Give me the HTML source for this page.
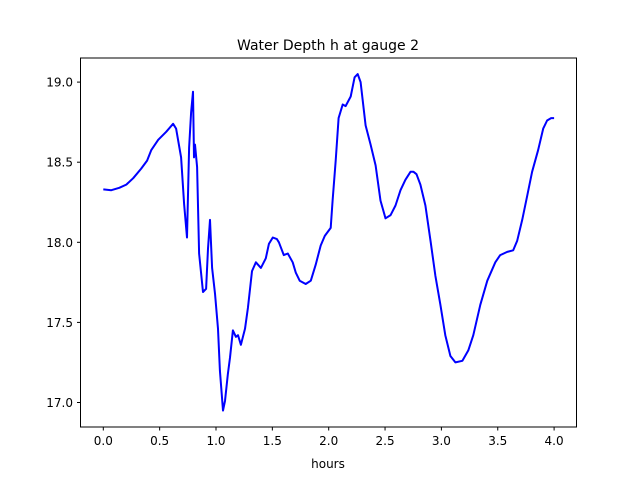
<!DOCTYPE html>
<html><head><meta charset="utf-8"><style>
html,body{margin:0;padding:0;background:#fff;}
svg{display:block;font-family:"DejaVu Sans","Liberation Sans",sans-serif;}
</style></head><body>
<svg id="chart" width="640" height="480" viewBox="0 0 640 480">
<rect x="0" y="0" width="640" height="480" fill="#fff"/>
<text x="328" y="50" text-anchor="middle" font-size="14" fill="#000">Water Depth h at gauge 2</text>
<g id="plot"></g>
<rect x="80.5" y="58" width="496" height="369" fill="none" stroke="#000" stroke-width="1"/>
<g id="xt"></g>
<g id="yt"></g>
<text x="328" y="468" text-anchor="middle" font-size="12" fill="#000">hours</text>
</svg>
<script>
const hours=[0,0.071,0.142,0.204,0.265,0.336,0.389,0.425,0.487,0.558,0.619,0.646,0.690,0.717,0.743,0.761,0.779,0.796,0.805,0.814,0.832,0.850,0.885,0.912,0.929,0.947,0.965,0.991,1.018,1.035,1.062,1.080,1.106,1.124,1.150,1.177,1.195,1.221,1.257,1.283,1.319,1.354,1.398,1.442,1.469,1.504,1.540,1.558,1.602,1.637,1.681,1.708,1.743,1.796,1.841,1.885,1.929,1.965,2.018,2.035,2.062,2.088,2.124,2.150,2.195,2.230,2.257,2.283,2.327,2.372,2.416,2.460,2.504,2.549,2.593,2.637,2.681,2.726,2.752,2.779,2.814,2.858,2.903,2.947,2.991,3.035,3.080,3.124,3.186,3.239,3.283,3.345,3.407,3.478,3.522,3.584,3.637,3.673,3.717,3.761,3.805,3.858,3.903,3.938,3.973,4.0];
const depth=[18.33,18.325,18.34,18.36,18.40,18.46,18.51,18.575,18.64,18.69,18.74,18.71,18.53,18.24,18.03,18.59,18.81,18.94,18.53,18.61,18.47,17.93,17.69,17.71,17.96,18.14,17.84,17.68,17.46,17.20,16.95,17.01,17.18,17.28,17.45,17.41,17.42,17.36,17.46,17.59,17.82,17.875,17.84,17.90,17.99,18.03,18.02,18.00,17.92,17.93,17.875,17.81,17.76,17.74,17.76,17.86,17.98,18.04,18.09,18.26,18.51,18.775,18.86,18.85,18.91,19.03,19.05,19.00,18.73,18.61,18.48,18.26,18.15,18.17,18.23,18.325,18.39,18.44,18.44,18.425,18.36,18.23,18.01,17.79,17.61,17.42,17.29,17.25,17.26,17.325,17.42,17.61,17.76,17.875,17.92,17.94,17.95,18.01,18.14,18.29,18.44,18.575,18.71,18.76,18.775,18.775];
const xTicks=[0,0.5,1,1.5,2,2.5,3,3.5,4];
const xTickLabels=["0.0","0.5","1.0","1.5","2.0","2.5","3.0","3.5","4.0"];
const yTicks=[17,17.5,18,18.5,19];
const yTickLabels=["17.0","17.5","18.0","18.5","19.0"];
const NS="http://www.w3.org/2000/svg";
const X=h=>103.3+h*112.7;
const Y=v=>402.5-(v-17)*160.2;
const plot=document.getElementById('plot');
const line=document.createElementNS(NS,'polyline');


line.setAttribute('points',hours.map((h,i)=>X(h).toFixed(1)+','+Y(depth[i]).toFixed(1)).join(' '));
line.setAttribute('fill','none');line.setAttribute('stroke','#0000ff');line.setAttribute('stroke-width','2');line.setAttribute('stroke-linejoin','round');
plot.appendChild(line);
const xt=document.getElementById('xt');
xTicks.forEach((t,i)=>{
const l=document.createElementNS(NS,'line');


l.setAttribute('x1',X(t));l.setAttribute('x2',X(t));l.setAttribute('y1',427);l.setAttribute('y2',430.5);l.setAttribute('stroke','#000');
xt.appendChild(l);
const tx=document.createElementNS(NS,'text');


tx.setAttribute('x',X(t));tx.setAttribute('y',445);tx.setAttribute('text-anchor','middle');tx.setAttribute('font-size','12');
tx.textContent=xTickLabels[i];xt.appendChild(tx);
});
const yt=document.getElementById('yt');
yTicks.forEach((t,i)=>{
const l=document.createElementNS(NS,'line');


l.setAttribute('x1',77);l.setAttribute('x2',80.5);l.setAttribute('y1',Y(t));l.setAttribute('y2',Y(t));l.setAttribute('stroke','#000');
yt.appendChild(l);
const tx=document.createElementNS(NS,'text');


tx.setAttribute('x',73);tx.setAttribute('y',Y(t)+4.5);tx.setAttribute('text-anchor','end');tx.setAttribute('font-size','12');
tx.textContent=yTickLabels[i];yt.appendChild(tx);
});
</script>
</body></html>
